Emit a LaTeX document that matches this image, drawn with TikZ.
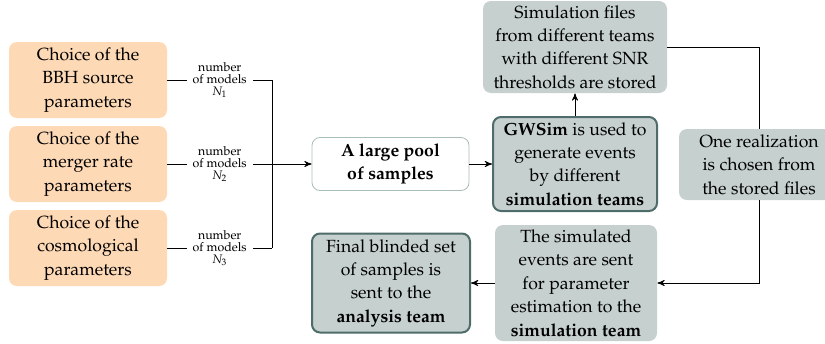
\documentclass[tikz,border=0pt]{standalone}
\usepackage[T1]{fontenc}
\usepackage{mathpazo}
\usepackage{xcolor}
\usepackage{tikz}
\usetikzlibrary{arrows,calc,positioning}
\tikzset{>=stealth'}
\definecolor{choicefill}{HTML}{FDD9B5}
\definecolor{stepfill}{HTML}{C6D0CF}
\definecolor{stepline}{HTML}{4E6C6A}
\definecolor{poolline}{HTML}{A9BDB9}
\tikzset{
  choice/.style={rectangle,fill=choicefill,rounded corners=4pt,align=center,minimum width=79pt,minimum height=38pt,inner sep=0pt,font=\fontsize{8.8}{11.7}\selectfont},
  pool/.style={rectangle,draw=poolline,line width=0.4pt,fill=white,rounded corners=4pt,align=center,minimum width=78.5pt,minimum height=26.5pt,inner sep=0pt,font=\fontsize{8.8}{11.7}\selectfont},
  stage/.style={rectangle,fill=stepfill,rounded corners=4pt,align=center,inner sep=0pt,font=\fontsize{8.8}{11.7}\selectfont},
  keystage/.style={stage,draw=stepline,line width=1pt},
  nmodels/.style={fill=white,align=center,inner xsep=3pt,inner ysep=1pt,font=\fontsize{6.2}{6}\selectfont}
}

\begin{document}
\begin{tikzpicture}[x=0.5pt,y=-0.5pt,node distance=42pt]
  \path[use as bounding box] (0,0) rectangle (825,343);
  \clip (0,0) rectangle (825,343);
  \node[choice] (BBH) at (88,80) {Choice of the\\BBH source\\parameters};
  \node[choice,below of=BBH] (Rate) {Choice of the\\merger rate\\parameters};
  \node[choice,below of=Rate] (Cosmo) {Choice of the\\cosmological\\parameters};
  \coordinate (J1) at (272,0 |- BBH);
  \coordinate (J2) at (272,0 |- Rate);
  \coordinate (J3) at (272,0 |- Cosmo);
  \node[pool] (Pool) at (390.5,0 |- Rate) {\textbf{A large pool}\\\textbf{of samples}};
  \node[keystage,minimum width=82pt,minimum height=47pt] (GWSim) at (575,0 |- Rate) {\textbf{GWSim} is used to\\generate events\\by different\\\textbf{simulation teams}};
  \node[stage,minimum width=92pt,minimum height=46pt] (Files) at (575,47) {Simulation files\\from different teams\\with different SNR\\thresholds are stored};
  \node[stage,minimum width=80pt,minimum height=35.5pt] (Realization) at (759,164.5) {One realization\\is chosen from\\the stored files};
  \node[stage,minimum width=81pt,minimum height=58pt] (SimEvents) at (576,283) {The simulated\\events are sent\\for parameter\\estimation to the\\\textbf{simulation team}};
  \node[keystage,minimum width=79pt,minimum height=49.5pt] (Final) at (391,283) {Final blinded set\\of samples is\\sent to the\\\textbf{analysis team}};
  \draw (BBH.east) -- node[nmodels]{number\\of models\\$N_1$} (J1);
  \draw (Rate.east) -- node[nmodels]{number\\of models\\$N_2$} (J2);
  \draw (Cosmo.east) -- node[nmodels]{number\\of models\\$N_3$} (J3);
  \draw (J1) -- (J3);
  \draw[->] (J2) -- (Pool);
  \draw[->] (Pool) -- (GWSim);
  \draw[->] (GWSim) -- (Files);
  \draw (Files.east) -| (Realization.north);
  \draw[->] (Realization.south) |- (SimEvents.east);
  \draw[->] (SimEvents) -- (Final);
\end{tikzpicture}
\end{document}
